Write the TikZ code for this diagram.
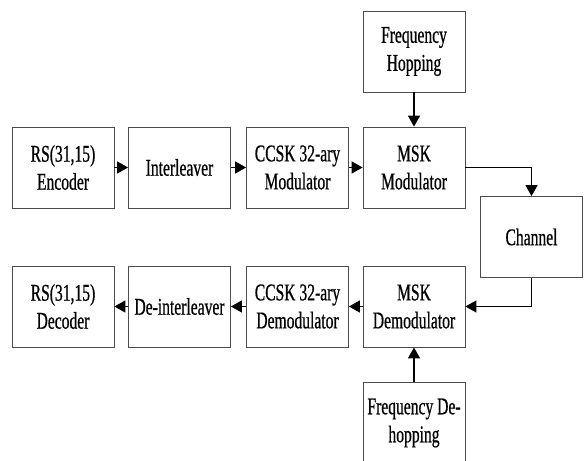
\documentclass[tikz,border=0pt]{standalone}
\usepackage{fontspec}
\setmainfont[FakeStretch=0.65,FakeBold=0.6]{Liberation Serif}
\usetikzlibrary{arrows.meta}
\tikzset{
  blk/.style={draw=black!70,line width=0.8pt,minimum width=102pt,minimum height=81pt,
    inner sep=0pt,align=center,font=\fontsize{24}{28}\selectfont},
  arr/.style={line width=1.4pt,-{Triangle[length=11pt,width=12pt]}}
}
\begin{document}
\begin{tikzpicture}[x=1pt,y=1pt]
\useasboundingbox (0,0) rectangle (585,460);
% transmitter chain
\node[blk] (enc) at (63,292.5) {RS(31,15)\\Encoder};
\node[blk] (intl) at (179.5,292.5) {Interleaver};
\node[blk] (ccskmod) at (297.5,292.5) {CCSK 32-ary\\Modulator};
\node[blk] (mskmod) at (414,292.5) {MSK\\Modulator};
\node[blk] (fh) at (414,408.5) {Frequency\\Hopping};
\node[blk] (chan) at (531.5,223) {Channel};
% receiver chain
\node[blk] (mskdem) at (414,153.5) {MSK\\Demodulator};
\node[blk] (ccskdem) at (297.5,153.5) {CCSK 32-ary\\Demodulator};
\node[blk] (deintl) at (179.5,153.5) {De-interleaver};
\node[blk] (dec) at (63,153.5) {RS(31,15)\\Decoder};
\node[blk] (fdh) at (414,37) {Frequency De-\\hopping};
\draw[arr] (enc) -- (intl);
\draw[arr] (intl) -- (ccskmod);
\draw[arr] (ccskmod) -- (mskmod);
\draw[arr] (fh) -- (mskmod);
\draw[arr] (mskmod.east) -| (chan.north);
\draw[arr] (chan.south) |- (mskdem.east);
\draw[arr] (fdh) -- (mskdem);
\draw[arr] (mskdem) -- (ccskdem);
\draw[arr] (ccskdem) -- (deintl);
\draw[arr] (deintl) -- (dec);
\end{tikzpicture}
\end{document}
